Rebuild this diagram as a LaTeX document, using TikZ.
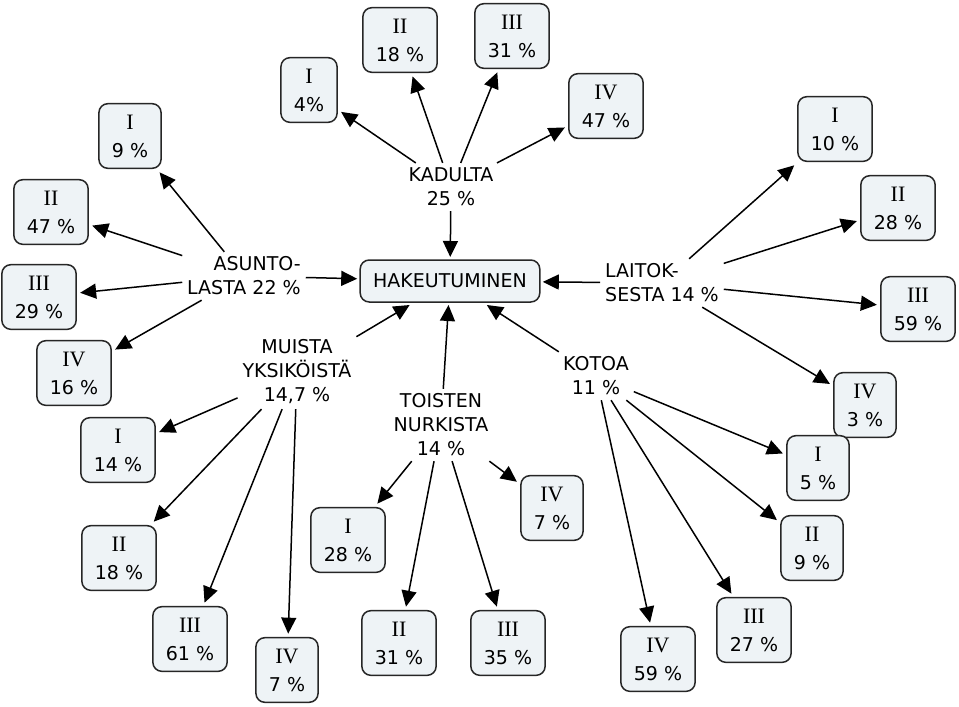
\documentclass[tikz,border=0pt]{standalone}
\usepackage{fontspec}
\setmainfont{DejaVu Sans}
\newfontfamily\romfont{Liberation Serif}
\usepackage{xcolor}
\usepackage{tikz}
\usetikzlibrary{arrows.meta}
\definecolor{boxfill}{RGB}{238,243,246}
\newcommand{\rn}[1]{{\romfont\fontsize{22}{28}\selectfont #1}}

\begin{document}
\begin{tikzpicture}[
    x=1pt, y=-1pt,
    pct/.style={draw=black!85, line width=1.5pt, rounded corners=9pt, fill=boxfill, align=center,
        inner xsep=13pt, inner ysep=11pt, outer sep=4pt, font=\fontsize{19}{28}\selectfont},
    hub/.style={draw=black!85, line width=1.5pt, rounded corners=9pt, fill=boxfill,
        inner xsep=13pt, minimum height=42pt, outer sep=3pt, font=\fontsize{19}{23}\selectfont},
    src/.style={align=#1, inner sep=3pt, outer sep=2pt, font=\fontsize{19}{24}\selectfont},
    src/.default=center,
    arr/.style={-{Triangle[length=16pt, width=15pt]}, line width=1.5pt},
    >=Triangle
]
\useasboundingbox (0,0) rectangle (959,707);

% Centre
\node[hub] (hak) at (450,281) {HAKEUTUMINEN};

% Sources
\node[src] (kad) at (451,187) {KADULTA\\25 \%};
\node[src=right] (asu) at (244,276) {ASUNTO-\\LASTA 22 \%};
\node[src=left] (lai) at (662,283) {LAITOK-\\SESTA 14 \%};
\node[src] (mui) at (297,372) {MUISTA\\YKSIKÖISTÄ\\14,7 \%};
\node[src] (toi) at (441,425) {TOISTEN\\NURKISTA\\14 \%};
\node[src] (kot) at (596,376) {KOTOA\\11 \%};

% Shares (KADULTA)
\node[pct] (kad1) at (309,90) {\rn{I}\\4\%};
\node[pct] (kad2) at (400,40) {\rn{II}\\18 \%};
\node[pct] (kad3) at (512,36) {\rn{III}\\31 \%};
\node[pct] (kad4) at (606,106) {\rn{IV}\\47 \%};

% Shares (ASUNTOLASTA)
\node[pct] (asu1) at (130,136) {\rn{I}\\9 \%};
\node[pct] (asu2) at (51,212) {\rn{II}\\47 \%};
\node[pct] (asu3) at (39,297) {\rn{III}\\29 \%};
\node[pct] (asu4) at (74,373) {\rn{IV}\\16 \%};

% Shares (LAITOKSESTA)
\node[pct] (lai1) at (835,129) {\rn{I}\\10 \%};
\node[pct] (lai2) at (898,208) {\rn{II}\\28 \%};
\node[pct] (lai3) at (918,309) {\rn{III}\\59 \%};
\node[pct] (lai4) at (865,405) {\rn{IV}\\3 \%};

% Shares (MUISTA YKSIKÖISTÄ)
\node[pct] (mui1) at (118,450) {\rn{I}\\14 \%};
\node[pct] (mui2) at (119,558) {\rn{II}\\18 \%};
\node[pct] (mui3) at (190,639) {\rn{III}\\61 \%};
\node[pct] (mui4) at (287,670) {\rn{IV}\\7 \%};

% Shares (TOISTEN NURKISTA)
\node[pct] (toi1) at (348,540) {\rn{I}\\28 \%};
\node[pct] (toi2) at (399,643) {\rn{II}\\31 \%};
\node[pct] (toi3) at (508,643) {\rn{III}\\35 \%};
\node[pct] (toi4) at (552,508) {\rn{IV}\\7 \%};

% Shares (KOTOA)
\node[pct] (kot1) at (818,468) {\rn{I}\\5 \%};
\node[pct] (kot2) at (812,548) {\rn{II}\\9 \%};
\node[pct] (kot3) at (754,630) {\rn{III}\\27 \%};
\node[pct] (kot4) at (658,659) {\rn{IV}\\59 \%};

% Arrows into the centre
\foreach \from in {kad, asu, lai, mui, toi, kot} {
    \draw[arr] (\from) -- (hak);
}

% Arrows out to the shares
\foreach \from in {kad, asu, lai, mui, toi, kot} {
    \foreach \i in {1,...,4} {
        \draw[arr] (\from) -- (\from\i);
    }
}

\end{tikzpicture}
\end{document}
